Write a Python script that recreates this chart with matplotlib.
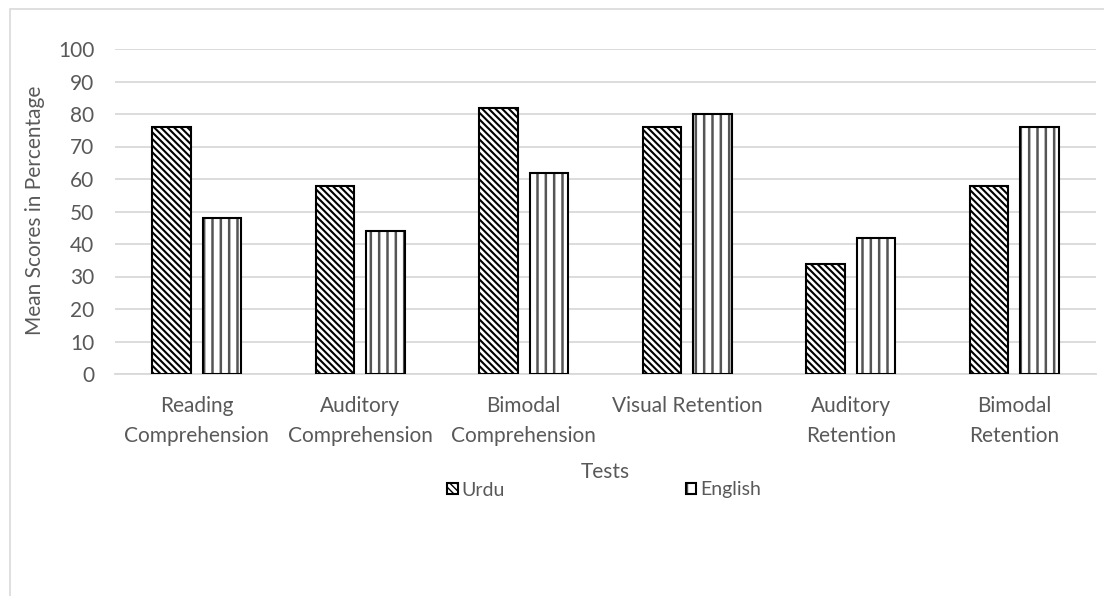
import matplotlib.pyplot as plt
import matplotlib as mpl
import numpy as np
from matplotlib.patches import Rectangle

# Mean scores per test, by language
tests = ["Reading\nComprehension", "Auditory\nComprehension", "Bimodal\nComprehension",
         "Visual Retention", "Auditory\nRetention", "Bimodal\nRetention"]
urdu = [76, 58, 82, 76, 34, 58]
english = [48, 44, 62, 80, 42, 76]

text_color = "#595959"
plt.rcParams['font.family'] = ['Lato', 'DejaVu Sans']

fig = plt.figure(figsize=(11.04, 5.96), dpi=100)
ax = fig.add_axes([115 / 1104, 1 - 374 / 596, (1096 - 115) / 1104, (374 - 49) / 596])

# light frame around the chart area
fig.patches.append(Rectangle((10 / 1104, -0.1), 1.2, 1 - 9 / 596 + 0.1,
                             transform=fig.transFigure, fill=False,
                             edgecolor="#d9d9d9", linewidth=1.2))

x = np.arange(len(tests))
width = 0.235
offset = 0.155

with mpl.rc_context({'hatch.linewidth': 1.5, 'hatch.color': 'black'}):
    b1 = ax.bar(x - offset, urdu, width, color="white", edgecolor="black",
                linewidth=1.5, hatch="\\" * 5, label="Urdu", zorder=3)
with mpl.rc_context({'hatch.linewidth': 1.8, 'hatch.color': '#555555'}):
    b2 = ax.bar(x + offset, english, width, color="white", edgecolor="black",
                linewidth=1.5, hatch="||", label="English", zorder=3)
for p in b1:
    p.set_hatch_linewidth(1.5)
    p._hatch_color = mpl.colors.to_rgba("black")
for p in b2:
    p.set_hatch_linewidth(1.8)
    p._hatch_color = mpl.colors.to_rgba("#555555")

ax.set_xlim(-0.5, len(tests) - 0.5)
ax.set_ylim(0, 100)
ax.set_yticks(range(0, 101, 10))
ax.set_xticks(x)
ax.set_xticklabels(tests, linespacing=1.6)
ax.tick_params(axis="both", length=0, labelsize=15, colors=text_color)
ax.tick_params(axis="y", pad=15)
ax.tick_params(axis="x", pad=16)
ax.yaxis.grid(True, color="#d9d9d9", linewidth=1.3, zorder=0)
ax.set_axisbelow(True)
for side in ["top", "right", "left"]:
    ax.spines[side].set_visible(False)
ax.spines["bottom"].set_color("#d9d9d9")
ax.spines["bottom"].set_linewidth(1.3)

ax.set_ylabel("Mean Scores in Percentage", fontsize=15, color=text_color)
ax.yaxis.set_label_coords(-70 / 981, (374 - 210) / 325)
ax.set_xlabel("Tests", fontsize=15, color=text_color)
ax.xaxis.set_label_coords((605 - 115) / 981, -(462 - 374) / 325)

fig.legend(handles=[b1, b2], loc="center", ncol=2, frameon=False,
           bbox_to_anchor=(604 / 1104, 1 - 490 / 596), fontsize=14,
           labelcolor=text_color, handlelength=0.55, handleheight=0.55,
           handletextpad=0.2, columnspacing=9.3)

fig.savefig("out.png", dpi=100)
